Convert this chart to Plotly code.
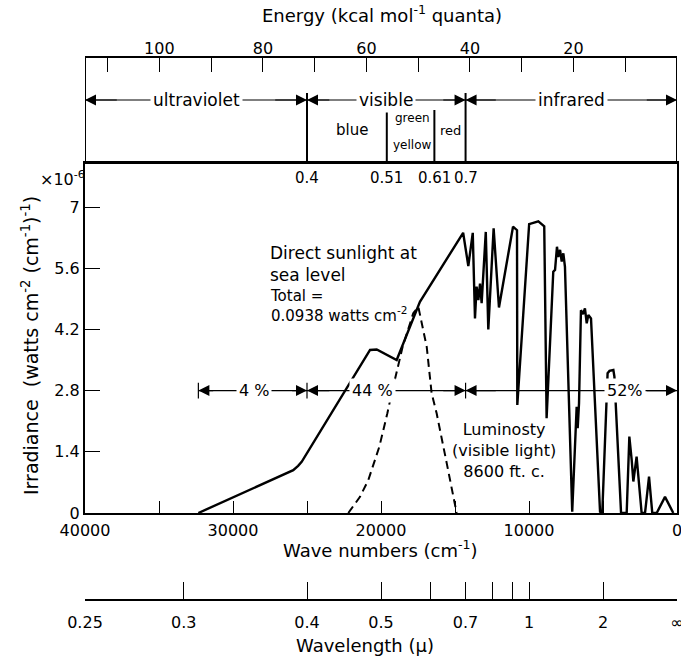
import math
import plotly.graph_objects as go

W, H = 681, 657
FONT = "DejaVu Sans"

# ---- data ----
sun_wn = [32340, 25930, 25600, 25360, 20740, 20290, 18940, 17370, 14450, 14100, 13800,
          13650, 13540, 13420, 13310, 13200, 12920, 12750, 12390, 12030, 11080, 10810,
          10790, 9990, 9370, 8970, 8810, 8360, 8240, 8110, 8020, 7900, 7790, 7680, 7570,
          7080, 6780, 6710, 6620, 6490, 6350, 6220, 6100, 5990, 5810, 5200, 5050, 4690,
          4560, 4300, 4230, 3780, 3400, 3220, 3060, 2950, 2730, 2570, 2390, 2160, 1890,
          1670, 1370, 810, 250]
sun_irr = [0.0, 0.98, 1.08, 1.17, 3.73, 3.74, 3.50, 4.83, 6.41, 5.65, 6.41,
           4.45, 5.18, 4.87, 5.25, 4.80, 6.43, 4.20, 6.51, 4.70, 6.55, 6.47,
           2.47, 6.61, 6.67, 6.56, 2.17, 5.52, 5.56, 6.09, 5.86, 6.02, 5.75, 5.94, 5.63,
           0.03, 2.43, 1.94, 2.51, 4.64, 4.55, 4.68, 4.34, 4.53, 4.45, 0.03, 0.0, 3.20,
           3.25, 3.27, 3.12, 0.0, 0.0, 1.75, 1.21, 0.72, 1.29, 0.60, 0.0, 0.0, 0.83,
           0.0, 0.0, 0.37, 0.0]
lum_wn = [22210, 21420, 20860, 20110, 19570, 19280, 18540, 17820, 17480, 16910, 16580,
          16240, 15560, 14890]
lum_irr = [0.0, 0.37, 0.75, 1.52, 2.28, 2.74, 3.80, 4.57, 4.72, 3.80, 2.74,
           2.28, 1.14, 0.0]

y_ticks = [0, 1.4, 2.8, 4.2, 5.6, 7]
y_tick_labels = ["0", "1.4", "2.8", "4.2", "5.6", "7"]
wn_ticks = list(range(0, 40001, 5000))
wn_tick_labels = [str(v) if v % 10000 == 0 else "" for v in wn_ticks]
energy_ticks = list(range(10, 111, 10))
energy_tick_labels = [str(v) if v % 20 == 0 else "" for v in energy_ticks]
wl_ticks = [0.25, 0.3, 0.4, 0.5, 0.6, 0.7, 0.8, 0.9, 1, 2, math.inf]
wl_tick_labels = ["0.25", "0.3", "0.4", "0.5", "", "0.7", "", "", "1", "2", "∞"]
region_bounds_um = [0.4, 0.51, 0.61, 0.7]
region_bound_labels = ["0.4", "0.51", "0.61", "0.7"]
region_names = ["ultraviolet", "visible", "infrared"]
pct_bounds = [32340, 25000, 14286, 0]
pct_labels = ["4 %", "44 %", "52%"]
pct_label_pos = [28600, 20550, 3500]
pct_level = 2.8

CM_PER_KCAL = 349.76
WN_MAX = 40000


def um_to_wn(um):
    return 0 if math.isinf(um) else 1e4 / um


def X(p):
    return p / W


def Y(p):
    return 1 - p / H


def txt(text, x, y, size, xref="paper", yref="paper", **kw):
    d = dict(x=x, y=y, xref=xref, yref=yref, text=text, showarrow=False,
             xanchor="center", yanchor="middle",
             font=dict(family=FONT, size=size, color="black"))
    d.update(kw)
    return d


box_top, box_bot = 57, 163
plot_bot = 513
y_top = 7 * (plot_bot - box_bot) / (plot_bot - 207)

fig = go.Figure()
fig.add_trace(go.Scatter(x=sun_wn, y=sun_irr, mode="lines",
                         line=dict(color="black", width=2.4), showlegend=False,
                         hoverinfo="skip"))
fig.add_trace(go.Scatter(x=lum_wn, y=lum_irr, mode="lines",
                         line=dict(color="black", width=2, dash="8px,5px"),
                         showlegend=False, hoverinfo="skip"))
# dummy traces for overlay axes
fig.add_trace(go.Scatter(x=[None], y=[None], xaxis="x2", yaxis="y", showlegend=False,
                         hoverinfo="skip"))
fig.add_trace(go.Scatter(x=[None], y=[None], xaxis="x3", yaxis="y", showlegend=False,
                         hoverinfo="skip"))

tickfont = dict(family=FONT, size=16, color="black")
fig.update_layout(
    width=W, height=H, margin=dict(l=0, r=0, t=0, b=0, autoexpand=False),
    paper_bgcolor="white", plot_bgcolor="white",
    xaxis=dict(domain=[X(85), X(677)], range=[WN_MAX, 0], showgrid=False,
               zeroline=False, showline=True, linewidth=2, linecolor="black",
               mirror=True, ticks="inside", ticklen=12, tickwidth=1.3,
               tickcolor="black", tickvals=wn_ticks, ticktext=wn_tick_labels,
               tickfont=tickfont, anchor="y", automargin=False,
               ticklabeloverflow="allow", ticklabelstandoff=2),
    yaxis=dict(domain=[Y(plot_bot), Y(box_bot)], range=[0, y_top], showgrid=False,
               zeroline=False, showline=True, linewidth=2, linecolor="black",
               mirror=True, ticks="inside", ticklen=15, tickwidth=1.3,
               tickcolor="black", tickvals=y_ticks, ticktext=y_tick_labels,
               tickfont=tickfont, anchor="x", automargin=False,
               ticklabeloverflow="allow"),
    xaxis2=dict(overlaying="x", anchor="free", position=Y(box_top), side="top",
                range=[WN_MAX / CM_PER_KCAL, 0], showgrid=False, zeroline=False,
                showline=False, ticks="inside", ticklen=14, tickwidth=1.3,
                tickcolor="black", tickvals=energy_ticks,
                ticktext=energy_tick_labels, tickfont=tickfont, automargin=False,
                ticklabeloverflow="allow"),
    xaxis3=dict(overlaying="x", anchor="free", position=Y(600), side="bottom",
                range=[WN_MAX, 0], showgrid=False, zeroline=False, showline=True,
                linewidth=2, linecolor="black", ticks="inside", ticklen=17,
                tickwidth=1.3, tickcolor="black",
                tickvals=[um_to_wn(v) for v in wl_ticks], ticktext=wl_tick_labels,
                tickfont=tickfont, automargin=False, ticklabeloverflow="allow",
                ticklabelstandoff=8),
)

shapes = []
annotations = []
# top band box
shapes.append(dict(type="rect", xref="x", yref="paper", x0=WN_MAX, x1=0,
                   y0=Y(box_bot), y1=Y(box_top), line=dict(color="black", width=2)))
arrow_y = 100
region_wn = [um_to_wn(v) for v in region_bounds_um]
for um, wn in zip(region_bounds_um, region_wn):
    top = 93 if um in (0.4, 0.7) else 110
    shapes.append(dict(type="line", xref="x", yref="paper", x0=wn, x1=wn,
                       y0=Y(box_bot), y1=Y(top), line=dict(color="black", width=2)))
region_edges = [WN_MAX, region_wn[0], region_wn[3], 0]


def arrow(head, tail, y, yref):
    return dict(x=head, y=y, xref="x", yref=yref, ax=tail, ay=0, axref="x",
                ayref="pixel", text="", showarrow=True, arrowhead=2, arrowsize=2,
                arrowwidth=1.1, arrowcolor="black", standoff=0)


for i, name in enumerate(region_names):
    a, b = region_edges[i], region_edges[i + 1]
    shapes.append(dict(type="line", xref="x", yref="paper", x0=a, x1=b,
                       y0=Y(arrow_y), y1=Y(arrow_y), line=dict(color="black", width=1.1)))
    annotations.append(arrow(a, a - (a - b) * 0.15, Y(arrow_y), "paper"))
    annotations.append(arrow(b, b + (a - b) * 0.15, Y(arrow_y), "paper"))
    annotations.append(txt(name, (a + b) / 2, Y(arrow_y), 17, xref="x",
                           bgcolor="white", borderpad=2))
# colour names
for t, xp, yp, sz in (("blue", 352, 130, 15), ("green", 412, 118, 12),
                      ("yellow", 412, 145, 12), ("red", 450, 130, 13)):
    annotations.append(txt(t, X(xp), Y(yp), sz))
for wn, lab in zip(region_wn, region_bound_labels):
    annotations.append(txt(lab, wn, Y(178), 15, xref="x"))

# percentage arrows
for i, lab in enumerate(pct_labels):
    a, b = pct_bounds[i], pct_bounds[i + 1]
    shapes.append(dict(type="line", xref="x", yref="y", x0=a, x1=b, y0=pct_level,
                       y1=pct_level, line=dict(color="black", width=1.1)))
    annotations.append(arrow(a, a - (a - b) * 0.15, pct_level, "y"))
    annotations.append(arrow(b, b + (a - b) * 0.15, pct_level, "y"))
    annotations.append(txt(lab, pct_label_pos[i], pct_level, 16, xref="x", yref="y",
                           bgcolor="white", borderpad=2))
for wn in pct_bounds[:3]:
    shapes.append(dict(type="line", xref="x", yref="y", x0=wn, x1=wn,
                       y0=pct_level - 0.18, y1=pct_level + 0.18,
                       line=dict(color="black", width=1.2)))

# titles and texts
annotations += [
    txt("Energy (kcal mol<sup>-1</sup> quanta)", X(382), Y(14), 18),
    txt("Wave numbers (cm<sup>-1</sup>)", X(380), Y(549), 18),
    txt("Wavelength (μ)", X(365), Y(645), 18),
    txt("Irradiance  (watts cm<sup>-2</sup> (cm<sup>-1</sup>)<sup>-1</sup>)", X(30),
        Y(346), 19, textangle=-90),
    txt("×10<sup>-6</sup>", X(62), Y(178), 16),
    txt("Direct sunlight at<br>sea level", X(268), Y(264), 17, xanchor="left",
        align="left"),
    txt("Total =<br>0.0938 watts cm<sup>-2</sup>", X(268), Y(306), 15, xanchor="left",
        align="left"),
    txt("Luminosty<br>(visible light)<br>8600 ft. c.", X(504), Y(450), 16,
        align="center"),
]

fig.update_layout(shapes=shapes, annotations=annotations)
fig.write_html("out.html")
